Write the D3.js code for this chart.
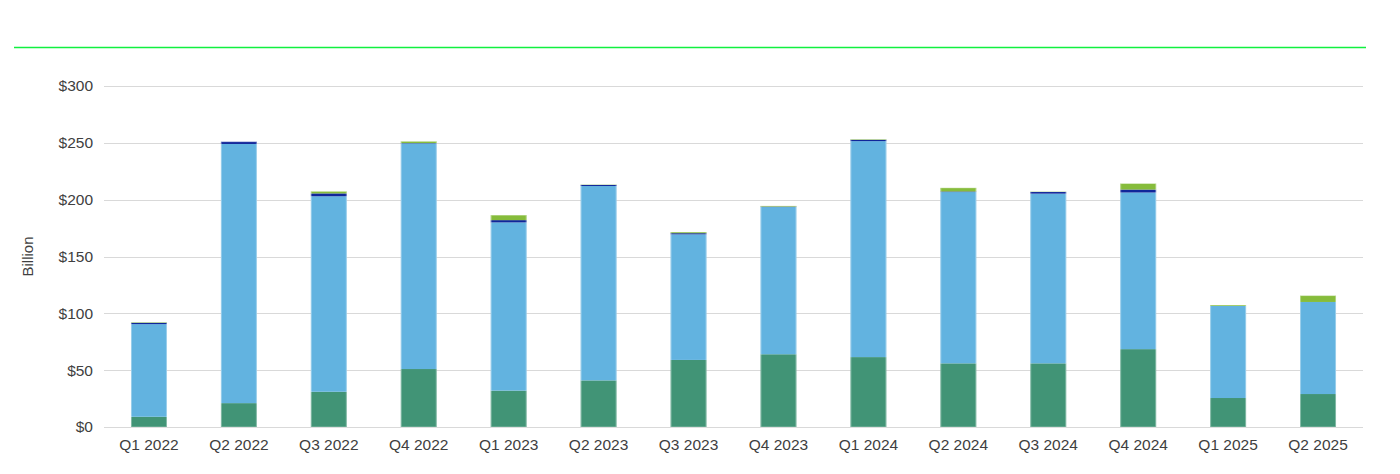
<!DOCTYPE html>
<html>
<head>
<meta charset="utf-8">
<script src="https://cdn.jsdelivr.net/npm/d3@7"></script>
<style>
  body { margin: 0; background: #fff; }
  svg { display: block; font-family: Arial, "Liberation Sans", sans-serif; }
</style>
</head>
<body>
<div id="chart"></div>
<script>
const quarters = ["Q1 2022", "Q2 2022", "Q3 2022", "Q4 2022", "Q1 2023", "Q2 2023", "Q3 2023",
  "Q4 2023", "Q1 2024", "Q2 2024", "Q3 2024", "Q4 2024", "Q1 2025", "Q2 2025"];

// stacked from bottom to top
const seriesA = [9, 21, 31, 51, 32, 41, 59, 64, 61.5, 56, 56, 68.5, 25.5, 29];
const seriesB = [81.5, 228, 172, 198.5, 148, 171, 110.5, 129.5, 190, 150.7, 149.3, 137.8, 81, 81];
const seriesC = [1.2, 2, 2.5, 0.3, 2, 1, 1, 0.4, 1.2, 0.5, 1.5, 2.6, 0, 0];
const seriesD = [0.5, 0, 1.8, 1.5, 4.4, 0.3, 1, 0.6, 0.5, 3.2, 0.3, 5.3, 0.8, 5.6];

const yTicks = [0, 50, 100, 150, 200, 250, 300];
const colors = ["#419476", "#62b3e0", "#10269a", "#86bc3b"];

const width = 1400, height = 474;
const margin = { top: 86, right: 37, bottom: 47, left: 104 };

const svg = d3.select("#chart").append("svg")
  .attr("width", width)
  .attr("height", height);

// green rule at the top
svg.append("line")
  .attr("x1", 14).attr("x2", 1366)
  .attr("y1", 47.5).attr("y2", 47.5)
  .attr("stroke", "#10f040")
  .attr("stroke-width", 1.5);

const x = d3.scaleBand()
  .domain(quarters)
  .range([margin.left, width - margin.right])
  .paddingInner(0.6)
  .paddingOuter(0.3);

const y = d3.scaleLinear()
  .domain([0, 300])
  .range([height - margin.bottom, margin.top]);

// grid
svg.append("g")
  .selectAll("line")
  .data(yTicks)
  .join("line")
  .attr("x1", margin.left)
  .attr("x2", width - margin.right)
  .attr("y1", d => Math.round(y(d)) + 0.5)
  .attr("y2", d => Math.round(y(d)) + 0.5)
  .attr("stroke", "#d9d9d9")
  .attr("stroke-width", 1);

// y labels
svg.append("g")
  .selectAll("text")
  .data(yTicks)
  .join("text")
  .attr("x", 93)
  .attr("y", d => y(d))
  .attr("dy", "0.35em")
  .attr("text-anchor", "end")
  .attr("font-size", 15.5)
  .attr("fill", "#404040")
  .text(d => "$" + d);

svg.append("text")
  .attr("transform", `translate(33,${(margin.top + height - margin.bottom) / 2}) rotate(-90)`)
  .attr("text-anchor", "middle")
  .attr("font-size", 15)
  .attr("fill", "#404040")
  .text("Billion");

// stacked bars
const rows = quarters.map((q, i) => ({
  q, a: seriesA[i], b: seriesB[i], c: seriesC[i], d: seriesD[i]
}));
const stack = d3.stack().keys(["a", "b", "c", "d"])(rows);

svg.append("g")
  .selectAll("g")
  .data(stack)
  .join("g")
  .attr("fill", (d, i) => colors[i])
  .selectAll("rect")
  .data(d => d)
  .join("rect")
  .attr("x", d => x(d.data.q))
  .attr("width", x.bandwidth())
  .attr("y", d => y(d[1]))
  .attr("height", d => Math.max(0, y(d[0]) - y(d[1])));

// thin light edge around each bar
svg.append("g")
  .selectAll("rect")
  .data(rows)
  .join("rect")
  .attr("x", d => x(d.q) + 0.5)
  .attr("width", x.bandwidth() - 1)
  .attr("y", d => y(d.a + d.b + d.c + d.d))
  .attr("height", d => y(0) - y(d.a + d.b + d.c + d.d))
  .attr("fill", "none")
  .attr("stroke", "#ffffff")
  .attr("stroke-opacity", 0.35)
  .attr("stroke-width", 1);

// x labels
svg.append("g")
  .selectAll("text")
  .data(quarters)
  .join("text")
  .attr("x", d => x(d) + x.bandwidth() / 2)
  .attr("y", 450)
  .attr("text-anchor", "middle")
  .attr("font-size", 15.5)
  .attr("fill", "#404040")
  .text(d => d);
</script>
</body>
</html>
